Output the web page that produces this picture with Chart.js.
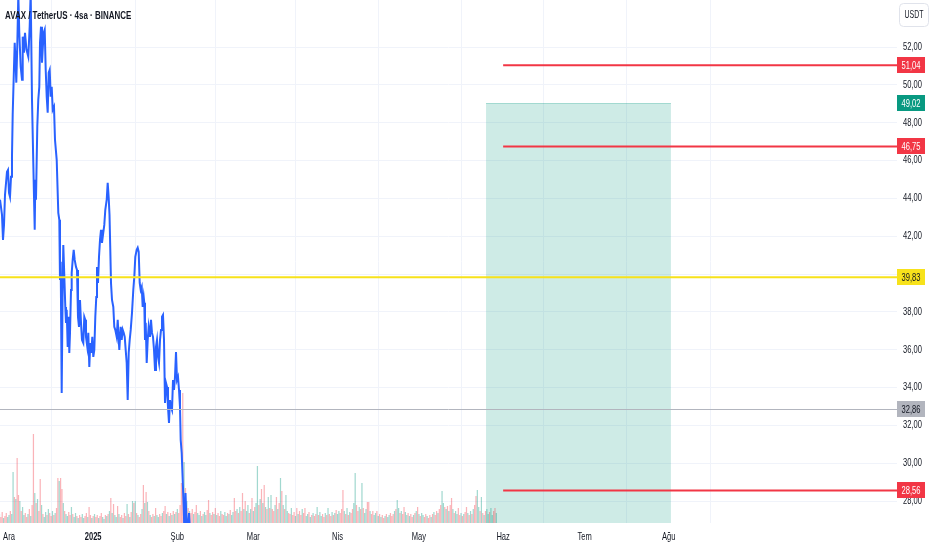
<!DOCTYPE html>
<html><head><meta charset="utf-8">
<script src="https://cdn.jsdelivr.net/npm/chart.js@4/dist/chart.umd.min.js"></script>
<style>html,body{margin:0;padding:0;background:#fff;}#wrap{width:932px;height:550px;position:relative}</style>
</head><body><div id="wrap"><canvas id="c" width="932" height="550"></canvas></div>
<script>
// ---------- DATA ----------
const chartTitle = 'AVAX / TetherUS · 4sa · BINANCE';
const currency = 'USDT';
// x axis: days since 2024-12-01
const monthDays = [0, 31, 62, 90, 121, 151, 182, 212, 243];
const monthLabels = ['Ara', '2025', 'Şub', 'Mar', 'Nis', 'May', 'Haz', 'Tem', 'Ağu'];
const priceTicks = [28, 30, 32, 34, 36, 38, 40, 42, 44, 46, 48, 50, 52];

const priceDays = [
 -3.31,-2.58,-2.21,-1.84,-1.47,-0.74,-0.37,0,0.37,0.74,
 1.10,1.36,1.84,2.10,2.39,2.69,3.06,3.43,3.79,4.31,
 4.79,5.05,5.52,5.89,6.45,7.11,7.62,7.99,8.47,8.95,
 9.21,9.47,9.69,9.94,10.42,10.79,11.16,11.42,11.79,12.15,
 12.41,12.78,13.15,13.52,13.89,14.25,14.62,14.99,15.36,15.73,
 16.10,16.57,16.94,17.57,18.16,18.53,18.78,19.04,19.41,19.78,
 20.00,20.26,20.74,20.99,21.25,21.62,21.99,22.21,22.47,22.84,
 23.09,23.46,23.83,24.20,24.68,25.05,25.41,25.78,26.15,26.52,
 26.89,27.37,27.73,28.10,28.36,28.84,29.21,29.58,29.94,30.31,
 30.68,31.05,31.42,31.79,32.15,32.41,32.78,33.15,33.52,33.89,
 34.25,34.62,35.10,35.47,35.99,36.35,36.72,37.02,37.31,37.57,
 37.94,38.42,38.78,39.15,39.67,40.04,40.41,40.63,41.14,41.51,
 41.88,42.25,42.62,42.98,43.35,43.72,44.09,44.46,44.83,45.30,
 45.78,46.15,46.52,47.03,47.40,47.77,48.14,48.51,48.88,49.24,
 49.61,49.83,50.09,50.35,50.72,51.09,51.45,51.93,52.30,52.67,
 53.04,53.41,53.78,54.14,54.51,54.88,55.25,55.62,55.99,56.35,
 56.72,57.09,57.46,57.83,58.20,58.56,58.93,59.30,59.67,60.04,
 60.41,60.77,61.14,61.51,61.88,62.25,62.62,62.98,63.24,63.61,
 63.98,64.35,64.64,65.01,65.56,66.30,66.85
];
const priceVals = [
 43.93,43.13,41.81,42.60,44.19,45.41,45.51,44.30,44.08,45.14,
 46.20,48.42,50.96,52.23,51.33,50.12,52.13,54.77,52.76,50.96,
 50.28,52.55,51.70,52.76,51.86,51.49,53.08,54.90,49.22,45.88,
 44.08,42.34,44.98,43.93,47.79,49.22,49.90,52.23,53.08,51.17,
 51.86,52.76,52.92,50.80,49.38,48.53,50.65,50.80,49.38,49.90,
 48.69,48.85,47.10,46.04,43.24,42.87,39.69,40.65,33.71,39.53,
 41.54,40.38,38.26,37.42,38.11,36.15,37.74,35.83,36.89,39.16,
 40.06,40.75,41.28,40.75,40.38,40.22,37.74,37.21,38.63,37.42,
 36.52,36.36,37.74,37.58,36.68,36.15,36.89,35.09,36.36,35.83,
 36.68,35.62,35.99,37.74,38.79,40.38,39.53,40.91,41.81,42.34,
 41.65,42.07,42.60,43.40,43.93,44.83,44.03,43.13,41.28,39.53,
 38.63,38.26,37.21,37.05,36.68,37.58,36.52,35.99,37.21,36.52,
 37.05,36.89,36.68,35.99,35.30,33.34,35.83,36.52,37.05,37.95,
 39.16,39.85,40.91,41.28,41.39,41.17,39.53,39.16,39.32,38.26,
 38.79,38.48,36.52,37.42,35.30,36.52,37.21,36.68,37.58,36.89,
 36.68,35.99,34.93,36.15,36.52,35.62,35.30,36.52,37.05,37.74,
 37.84,36.52,33.19,34.24,34.03,32.97,32.13,33.34,32.97,32.81,
 34.40,33.87,34.56,35.88,34.40,34.56,33.87,32.97,31.23,30.54,
 29.11,27.68,26.20,28.42,26.20,27.37,25.94
];

// volume bars, 12-hour buckets starting 2024-11-27 12:00, in units of 100K AVAX
const volStartDay = -3.5;
const volStepDays = 0.5;
const volumes = [
 9,6,11,5,7,10,6,8,12,9,
 51,26,24,65,28,22,12,16,8,10,
 6,9,14,7,18,89,30,20,24,12,
 44,18,9,6,11,8,14,10,7,12,
 8,10,15,45,42,45,34,20,12,9,
 7,11,8,16,9,6,10,7,5,8,
 6,9,5,7,10,6,16,8,5,7,
 9,6,8,5,7,10,6,4,8,7,
 9,12,25,10,19,8,6,17,9,6,
 8,5,10,7,19,9,6,11,22,20,
 22,10,8,6,9,14,38,20,31,21,
 12,8,6,9,7,15,8,6,9,7,
 10,12,17,9,11,7,10,8,12,9,
 11,14,10,18,40,130,61,35,22,15,
 12,10,14,9,11,18,10,8,12,7,
 9,11,8,13,23,10,8,11,9,15,
 8,10,7,12,9,8,11,7,10,9,
 13,8,11,25,12,14,10,16,12,30,
 14,22,12,18,10,14,25,12,16,20,
 57,18,24,34,20,38,16,14,26,15,
 28,14,12,18,26,14,20,45,32,18,
 14,28,12,10,9,15,8,11,7,15,
 9,12,8,14,10,15,7,9,11,6,
 8,10,7,9,16,8,11,7,9,6,
 10,8,15,9,7,11,8,10,13,9,
 12,10,14,33,12,9,15,8,11,10,
 14,20,50,18,12,16,14,40,15,10,
 14,21,21,12,9,12,8,10,12,7,
 9,6,8,5,7,9,6,8,10,7,
 9,12,14,23,15,10,12,9,16,11,
 8,10,7,9,6,8,10,12,16,9,
 7,10,8,6,9,7,5,8,6,9,
 11,8,12,10,14,18,32,20,16,14,
 17,12,18,25,14,10,12,9,15,8,
 10,7,9,11,16,10,8,12,9,14,
 18,27,33,16,12,26,10,8,12,14,
 9,11,15,8,12,15,10
];
// u = up candle (teal), d = down candle (red)
const volDir = (
 'uddudduudu'+'ududduduud'+'dududdudud'+'duduududdu'+'dudduddudu'+
 'udduduudud'+'duudduddud'+'uddudduudu'+'dududuudud'+'duddududud'+
 'ududdududu'+'dudduduudd'+'uddudududu'+'duddddudud'+'uddudduudu'+
 'duudduddud'+'uddudduudu'+'duuddududd'+'uduudududu'+'ududududud'+
 'uddudududu'+'duudduddud'+'uddudduudu'+'dudduduudd'+'ududdududu'+
 'udddududud'+'duuddududu'+'uddudduudu'+'dudduduudd'+'duduududdu'+
 'ududdududu'+'duudduddud'+'uddudduudu'+'dudduduudd'+'ududdududu'+
 'dduudududu'+'uduuddu').split('');

// drawn levels
const entryLevel = 39.83;
const lastPrice = 32.86;
const targetLevels = [51.04, 46.75, 28.56];
const targetStartDay = 182;
const zoneTop = 49.02;
const zoneStartDay = 175.7;
const zoneEndDay = 243.8;

// ---------- RENDERING ----------
const FONT = '"Liberation Sans", Arial, sans-serif';
const SX = 0.72;
function drawText(ctx, s, x, y, align, size, weight, color, sx) {
  ctx.save();
  ctx.translate(x, y);
  ctx.scale(sx || SX, 1);
  ctx.font = (weight || 'normal') + ' ' + size + 'px ' + FONT;
  ctx.textAlign = align;
  ctx.textBaseline = 'middle';
  ctx.fillStyle = color;
  ctx.fillText(s, 0, 0);
  ctx.restore();
}
const fmt = v => v.toFixed(2).replace('.', ',');

function roundRect(ctx, x, y, w, h, r) {
  ctx.beginPath();
  ctx.moveTo(x + r, y);
  ctx.lineTo(x + w - r, y); ctx.quadraticCurveTo(x + w, y, x + w, y + r);
  ctx.lineTo(x + w, y + h - r); ctx.quadraticCurveTo(x + w, y + h, x + w - r, y + h);
  ctx.lineTo(x + r, y + h); ctx.quadraticCurveTo(x, y + h, x, y + h - r);
  ctx.lineTo(x, y + r); ctx.quadraticCurveTo(x, y, x + r, y);
  ctx.closePath();
}

const overlay = {
  id: 'overlay',
  beforeDatasetsDraw(chart) {
    const { ctx, chartArea: a, scales: { x, y } } = chart;
    ctx.save();
    ctx.beginPath(); ctx.rect(a.left, a.top, a.width, a.height); ctx.clip();
    const x1 = x.getPixelForValue(zoneStartDay), x2 = x.getPixelForValue(zoneEndDay);
    const yt = y.getPixelForValue(zoneTop);
    ctx.fillStyle = 'rgba(8,153,129,0.2)';
    ctx.fillRect(x1, yt, x2 - x1, a.bottom - yt);
    ctx.strokeStyle = 'rgba(8,153,129,0.3)';
    ctx.lineWidth = 1;
    ctx.beginPath(); ctx.moveTo(x1, Math.round(yt) + 0.5); ctx.lineTo(x2, Math.round(yt) + 0.5); ctx.stroke();
    ctx.restore();
  },
  afterDatasetsDraw(chart) {
    const { ctx, chartArea: a, scales: { x, y } } = chart;
    ctx.save();
    ctx.beginPath(); ctx.rect(a.left, a.top, a.width, a.height); ctx.clip();
    let py = Math.round(y.getPixelForValue(lastPrice)) + 0.5;
    ctx.strokeStyle = '#b2b5be'; ctx.lineWidth = 1;
    ctx.beginPath(); ctx.moveTo(a.left, py); ctx.lineTo(a.right, py); ctx.stroke();
    py = y.getPixelForValue(entryLevel);
    ctx.strokeStyle = '#f7e21b'; ctx.lineWidth = 2;
    ctx.beginPath(); ctx.moveTo(a.left, py); ctx.lineTo(a.right, py); ctx.stroke();
    const xs = x.getPixelForValue(targetStartDay);
    ctx.strokeStyle = '#f23645'; ctx.lineWidth = 2;
    targetLevels.forEach(v => {
      const yy = y.getPixelForValue(v);
      ctx.beginPath(); ctx.moveTo(xs, yy); ctx.lineTo(a.right, yy); ctx.stroke();
    });
    ctx.restore();
  },
  afterDraw(chart) {
    const { ctx, chartArea: a, scales: { x, y } } = chart;
    y.ticks.forEach(t => {
      drawText(ctx, fmt(t.value), a.right + 6, y.getPixelForValue(t.value), 'left', 10.5, 'normal', '#131722');
    });
    x.ticks.forEach(t => {
      const idx = monthDays.indexOf(t.value);
      if (idx < 0) return;
      const lab = monthLabels[idx];
      drawText(ctx, lab, x.getPixelForValue(t.value), 537, 'center', 10.5, lab === '2025' ? 'bold' : 'normal', '#131722');
    });
    const tags = [
      { v: targetLevels[0], bg: '#f23645', fg: '#ffffff' },
      { v: zoneTop, bg: '#089981', fg: '#ffffff' },
      { v: targetLevels[1], bg: '#f23645', fg: '#ffffff' },
      { v: entryLevel, bg: '#f7e21b', fg: '#131722' },
      { v: lastPrice, bg: '#b2b5be', fg: '#131722' },
      { v: targetLevels[2], bg: '#f23645', fg: '#ffffff' }
    ];
    tags.forEach(tg => {
      const yy = y.getPixelForValue(tg.v);
      ctx.fillStyle = tg.bg;
      ctx.fillRect(a.right, Math.round(yy - 8), 28, 16);
      drawText(ctx, fmt(tg.v), a.right + 14, yy + 0.5, 'center', 10.5, 'normal', tg.fg);
    });
    ctx.save();
    roundRect(ctx, 899.5, 3.5, 29, 23, 4);
    ctx.fillStyle = '#ffffff'; ctx.fill();
    ctx.strokeStyle = '#e0e3eb'; ctx.lineWidth = 1; ctx.stroke();
    ctx.restore();
    drawText(ctx, currency, 914, 15.5, 'center', 10.5, 'normal', '#131722', 0.66);
    drawText(ctx, chartTitle, 5, 15.5, 'left', 11, 'bold', '#131722', 0.725);
  }
};

const priceData = priceDays.map((d, i) => ({ x: d, y: priceVals[i] }));
const volData = volumes.map((v, i) => ({ x: volStartDay + i * volStepDays, y: v }));
const volColors = volumes.map((v, i) => volDir[i] === 'd' ? 'rgba(242,54,69,0.38)' : 'rgba(8,153,129,0.38)');

new Chart(document.getElementById('c'), {
  type: 'line',
  data: {
    datasets: [
      {
        type: 'line', label: 'AVAX', data: priceData, yAxisID: 'y', order: 0,
        borderColor: '#2962ff', borderWidth: 2, pointRadius: 0, tension: 0, fill: false
      },
      {
        type: 'bar', label: 'Volume', data: volData, yAxisID: 'yv', order: 1,
        backgroundColor: volColors, borderWidth: 0, barPercentage: 0.9, categoryPercentage: 1, grouped: false
      }
    ]
  },
  options: {
    responsive: false, animation: false, devicePixelRatio: 1, events: [],
    layout: { padding: 0 },
    plugins: { legend: { display: false }, tooltip: { enabled: false }, title: { display: false } },
    scales: {
      x: {
        type: 'linear', min: -3.315, max: 327.07, offset: false,
        grid: { color: '#f0f3fa', drawTicks: false }, border: { display: false },
        ticks: { display: false },
        afterBuildTicks: s => { s.ticks = monthDays.map(v => ({ value: v })); },
        afterFit: s => { s.height = 27; }
      },
      y: {
        type: 'linear', position: 'right', min: 26.84, max: 54.49,
        grid: { color: '#f0f3fa', drawTicks: false }, border: { display: false },
        ticks: { display: false },
        afterBuildTicks: s => { s.ticks = priceTicks.map(v => ({ value: v })); },
        afterFit: s => { s.width = 35; }
      },
      yv: { type: 'linear', display: false, min: 0, max: 523, position: 'left' }
    }
  },
  plugins: [overlay]
});
</script>
</body></html>
